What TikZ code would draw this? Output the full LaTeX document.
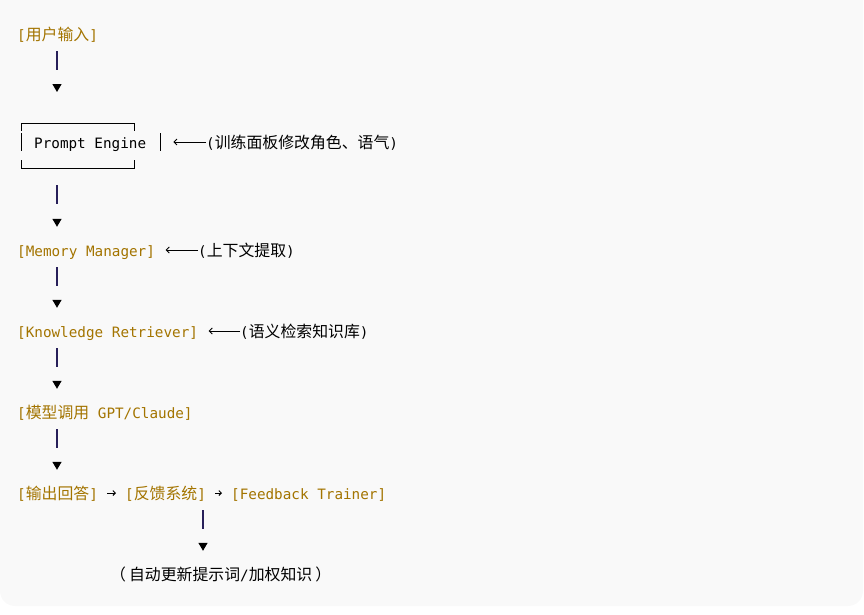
\documentclass[tikz,border=0pt]{standalone}
\usepackage{fontspec}
\setmonofont{DejaVu Sans Mono}
\newfontfamily\cjk[Scale=1.11]{Noto Sans CJK SC}
\usepackage{tikz}
\usetikzlibrary{arrows.meta}
\definecolor{gold}{RGB}{163,116,0}
\definecolor{barc}{RGB}{40,32,90}
\definecolor{bgc}{RGB}{249,249,249}

\begin{document}
\begin{tikzpicture}[x=1pt,y=-1pt,font=\ttfamily\fontsize{14.3}{17}\selectfont,
	tag/.style={anchor=west,inner sep=0pt,text height=12pt,text depth=0pt,text=gold},
	note/.style={anchor=west,inner sep=0pt,text height=12pt,text depth=0pt},
	flow/.style={draw=barc,line width=1.2pt,dash pattern=on 19pt off 40pt,shorten <=11pt,shorten >=17pt,-{Triangle[length=8pt,width=9pt,color=black]}},
	back/.style={line width=0.9pt,shorten >=10.5pt,-{Straight Barb[length=3pt,width=6pt]}},
	fwd/.style={line width=0.9pt,shorten <=9pt,shorten >=9pt,-{Straight Barb[length=2.5pt,width=5pt]}},
	boxline/.style={line width=1pt}]
	
	\useasboundingbox (0,0) rectangle (864,614);
	\clip (0,0) rectangle (864,614);
	\fill[bgc,rounded corners=15pt] (0,-30) rectangle (863,606);
	
	\coordinate (colA) at (57,0);
	\coordinate (colB) at (203,0);
	\coordinate (pet) at (57,123);
	\coordinate (peb) at (57,168);
	
	\node[tag] (inp) at (17,34) {[{\cjk 用户输入}]};
	\node[note,inner xsep=14pt] (pe) at (20,142) {Prompt Engine};
	\node[note] (pen) at (206,142) {({\cjk 训练面板修改角色、语气})};
	\node[tag] (mm) at (17,250) {[Memory Manager]};
	\node[note] (mmn) at (198,250) {({\cjk 上下文提取})};
	\node[tag] (kr) at (17,331) {[Knowledge Retriever]};
	\node[note] (krn) at (240,331) {({\cjk 语义检索知识库})};
	\node[tag] (llm) at (17,412) {[{\cjk 模型调用} GPT/Claude]};
	\node[tag] (ans) at (17,493) {[{\cjk 输出回答}]};
	\node[tag] (fbs) at (125,493) {[{\cjk 反馈系统}]};
	\node[tag] (fbt) at (231,493) {[Feedback Trainer]};
	\node[note] (upd) at (110,574) {{\cjk （\hspace{3pt}自动更新提示词}/{\cjk 加权知识\hspace{3pt}）}};
	
	\draw[boxline] (21,131) -- (21,123) -- (134,123) -- (134,131);
	\draw[boxline] (21,160) -- (21,168) -- (134,168) -- (134,160);
	\draw[boxline] (21,133) -- (21,151);
	\draw[boxline] (160,133) -- (160,151);
	
	\draw[flow,shorten >=31pt] (inp.south -| colA) -- (pet);
	\draw[flow,shorten <=17pt] (peb) -- (mm.north -| colA);
	\draw[flow] (mm.south -| colA) -- (kr.north -| colA);
	\draw[flow] (kr.south -| colA) -- (llm.north -| colA);
	\draw[flow] (llm.south -| colA) -- (ans.north -| colA);
	\draw[flow] (fbs.south -| colB) -- (upd.north -| colB);
	
	\draw[back,shorten >=13pt] (pen.west) -- (pe.east);
	\draw[back] (mmn.west) -- (mm.east);
	\draw[back] (krn.west) -- (kr.east);
	\draw[fwd] (ans) -- (fbs);
	\draw[fwd] (fbs) -- (fbt);
\end{tikzpicture}
\end{document}
